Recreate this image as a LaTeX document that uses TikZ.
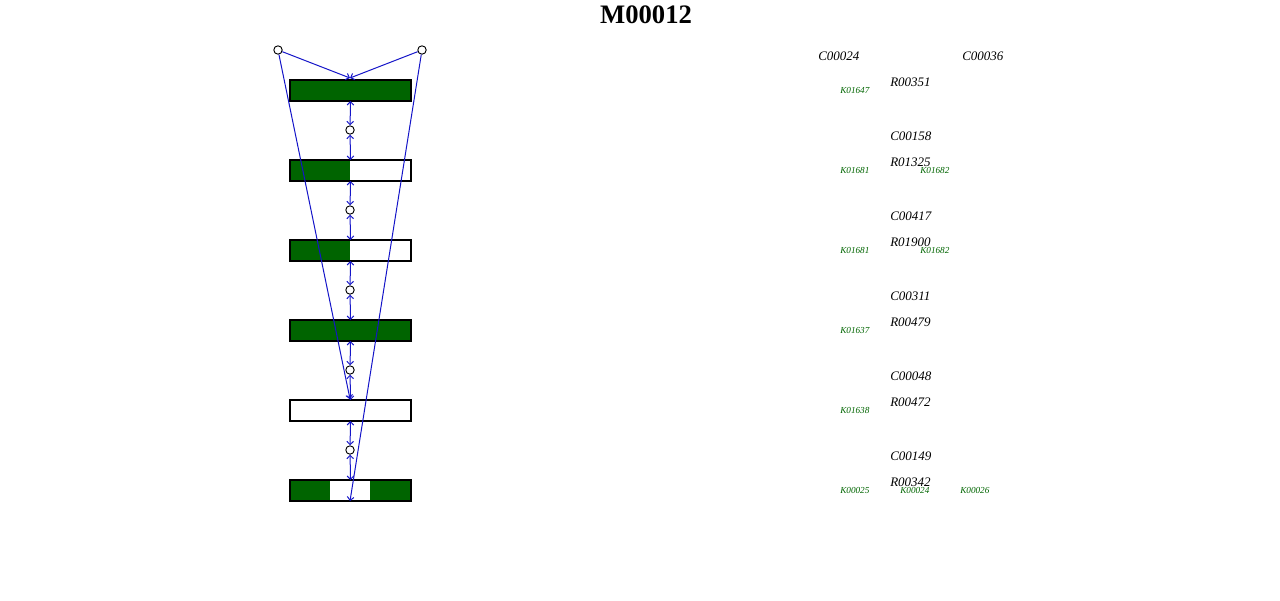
\documentclass[tikz,border=0pt]{standalone}
\usepackage{fontspec}
\setmainfont{Liberation Serif}
\usetikzlibrary{arrows.meta}
\definecolor{kgreen}{RGB}{0,100,0}
\definecolor{lblue}{RGB}{20,20,200}
\begin{document}
\begin{tikzpicture}[x=0.75pt,y=-0.75pt,
  box/.style={draw=black,line width=1.2pt,minimum width=90.75pt,minimum height=15.75pt,inner sep=0pt,outer sep=0pt},
  met/.style={circle,draw=black,fill=white,line width=0.7pt,minimum size=6.3pt,inner sep=0pt},
  flow/.style={lblue,line width=0.75pt,-{Straight Barb[length=2.5pt,width=5pt]}},
  both/.style={lblue,line width=0.75pt,{Straight Barb[length=2.5pt,width=5pt]}-{Straight Barb[length=2.5pt,width=5pt]}},
  cpd/.style={font=\itshape\fontsize{9.75pt}{10pt}\selectfont,anchor=west,inner sep=0pt},
  ko/.style={font=\itshape\fontsize{6.9pt}{7pt}\selectfont,text=kgreen,anchor=west,inner sep=0pt}]
\useasboundingbox (0,0) rectangle (1280,600);
\node[font=\bfseries\fontsize{20pt}{22pt}\selectfont,inner sep=0pt] (title) at (646,15) {M00012};
% boxes (fills)
\fill[kgreen] (290,80) rectangle (411,101);
\fill[kgreen] (290,160) rectangle (350,181);
\fill[kgreen] (290,240) rectangle (350,261);
\fill[kgreen] (290,320) rectangle (411,341);
\fill[kgreen] (290,480) rectangle (330,501);
\fill[kgreen] (370,480) rectangle (411,501);
\node[box] (b1) at (350.5,90.5) {};
\node[box] (b2) at (350.5,170.5) {};
\node[box] (b3) at (350.5,250.5) {};
\node[box] (b4) at (350.5,330.5) {};
\node[box] (b5) at (350.5,410.5) {};
\node[box] (b6) at (350.5,490.5) {};
% metabolite circles
\node[met] (tl) at (278,50) {};
\node[met] (tr) at (422,50) {};
\node[met] (c1) at (350,130) {};
\node[met] (c2) at (350,210) {};
\node[met] (c3) at (350,290) {};
\node[met] (c4) at (350,370) {};
\node[met] (c5) at (350,450) {};
\coordinate (t1) at (350,78);
\coordinate (e5) at (350,399);
\coordinate (e6) at (350,501);
% connectors
\draw[flow] (tl) -- (t1);
\draw[flow] (tr) -- (t1);
\draw[flow] (tl) -- (e5);
\draw[flow] (tr) -- (e6);
\draw[both] (b1.south) -- (c1);
\draw[both] (c1) -- (b2.north);
\draw[both] (b2.south) -- (c2);
\draw[both] (c2) -- (b3.north);
\draw[both] (b3.south) -- (c3);
\draw[both] (c3) -- (b4.north);
\draw[both] (b4.south) -- (c4);
\draw[both] (c4) -- (b5.north);
\draw[both] (b5.south) -- (c5);
\draw[both] (c5) -- (b6.north);
% labels
\node[cpd] (l1) at (818,56) {C00024};
\node[cpd] (l2) at (962,56) {C00036};
\node[cpd] (r1) at (890,82) {R00351};
\node[ko] (k1) at (840,90.5) {K01647};
\node[cpd] (l3) at (890,136) {C00158};
\node[cpd] (r2) at (890,162) {R01325};
\node[ko] (k2) at (840,170.5) {K01681};
\node[ko] (k3) at (920,170.5) {K01682};
\node[cpd] (l4) at (890,216) {C00417};
\node[cpd] (r3) at (890,242) {R01900};
\node[ko] (k4) at (840,250.5) {K01681};
\node[ko] (k5) at (920,250.5) {K01682};
\node[cpd] (l5) at (890,296) {C00311};
\node[cpd] (r4) at (890,322) {R00479};
\node[ko] (k6) at (840,330.5) {K01637};
\node[cpd] (l6) at (890,376) {C00048};
\node[cpd] (r5) at (890,402) {R00472};
\node[ko] (k7) at (840,410.5) {K01638};
\node[cpd] (l7) at (890,456) {C00149};
\node[cpd] (r6) at (890,482) {R00342};
\node[ko] (k8) at (840,490.5) {K00025};
\node[ko] (k9) at (900,490.5) {K00024};
\node[ko] (k10) at (960,490.5) {K00026};
\end{tikzpicture}
\end{document}
